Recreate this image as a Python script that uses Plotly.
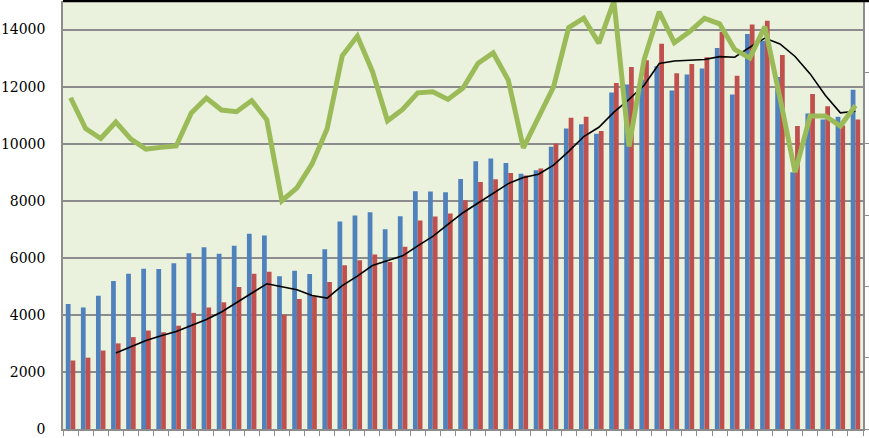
import plotly.graph_objects as go

categories = [str(i) for i in range(1, 54)]

blue_values = [4380, 4260, 4670, 5190, 5440, 5620, 5610, 5810, 6160, 6370,
               6140, 6420, 6840, 6780, 5350, 5550, 5430, 6300, 7270, 7480,
               7600, 7000, 7460, 8330, 8320, 8300, 8760, 9380, 9480, 9320,
               8950, 9070, 9890, 10530, 10680, 10350, 11790, 12070, 12250, 12710,
               11860, 12420, 12630, 13350, 11720, 13840, 13610, 12340, 9000, 11060,
               10850, 10940, 11890]

red_values = [2400, 2500, 2750, 3000, 3220, 3450, 3390, 3620, 4070, 4260,
              4440, 4980, 5440, 5510, 4010, 4560, 4650, 5150, 5740, 5910,
              6120, 5850, 6390, 7310, 7450, 7550, 8020, 8660, 8750, 8970,
              8880, 9130, 10010, 10910, 10940, 10440, 12130, 12690, 12920, 13500,
              12470, 12790, 13030, 13920, 12380, 14180, 14310, 13110, 10620, 11740,
              11310, 10640, 10850]

# trend line (moving average) values; first three are empty
trend_values = [None, None, None, 2660, 2870, 3105, 3265, 3420, 3630, 3835,
                4100, 4440, 4780, 5090, 4985, 4880, 4680, 4590, 5025, 5360,
                5730, 5905, 6070, 6420, 6750, 7175, 7580, 7920, 8245, 8600,
                8815, 8930, 9250, 9730, 10250, 10575, 11105, 11550, 12045, 12810,
                12895, 12920, 12950, 13050, 13030, 13380, 13700, 13495, 13055, 12445,
                11695, 11080, 11135]

green_values = [11610, 10530, 10180, 10760, 10160, 9810, 9870, 9920, 11080, 11600,
                11180, 11120, 11510, 10840, 8000, 8450, 9290, 10520, 13080, 13770,
                12530, 10800, 11200, 11780, 11815, 11550, 11950, 12820, 13180, 12230,
                9850, 10970, 11990, 14070, 14400, 13520, 15000, 9900, 12950, 14620,
                13540, 13920, 14390, 14200, 13300, 13000, 14100, 11600, 9000, 10970,
                10970, 10620, 11340]

left_ticks = [0, 2000, 4000, 6000, 8000, 10000, 12000, 14000]

fig = go.Figure()
fig.add_trace(go.Bar(x=categories, y=blue_values, marker=dict(color="#4f81bd", line=dict(width=0)), name="A"))
fig.add_trace(go.Bar(x=categories, y=red_values, marker=dict(color="#c0504d", line=dict(width=0)), name="B"))
fig.add_trace(go.Scatter(x=categories, y=trend_values, mode="lines",
                         line=dict(color="black", width=1.6), name="MA"))
fig.add_trace(go.Scatter(x=categories, y=green_values, mode="lines", yaxis="y2",
                         line=dict(color="#9bbb59", width=5), name="C"))

fig.update_layout(
    width=869, height=438,
    margin=dict(l=60, r=5, t=1, b=6),
    paper_bgcolor="white",
    plot_bgcolor="#eaf2dd",
    showlegend=False,
    barmode="group",
    bargap=0.37,
    bargroupgap=0,
    xaxis=dict(type="category", showticklabels=False, showgrid=False,
               showline=True, linecolor="#8c8c8c", linewidth=1.5,
               ticks="outside", ticklen=5, tickcolor="#8c8c8c", tickson="boundaries",
               range=[-0.5, 52.5]),
    yaxis=dict(range=[0, 15000], tickvals=left_ticks, ticktext=[str(v) for v in left_ticks],
               showgrid=True, gridcolor="#8c8c8c", gridwidth=1.5,
               showline=True, linecolor="#8c8c8c", linewidth=1.5,
               ticks="outside", ticklen=13, tickcolor="rgba(0,0,0,0)",
               tickfont=dict(family="DejaVu Serif", size=14, color="black"),
               ticklabeloverflow="allow",
               zeroline=False),
    yaxis2=dict(range=[0, 15000], dtick=2500, overlaying="y", side="right",
                showticklabels=False, showgrid=False, zeroline=False,
                showline=True, linecolor="#8c8c8c", linewidth=1.5,
                ticks="outside", ticklen=5, tickcolor="#8c8c8c"),
    shapes=[dict(type="line", xref="paper", yref="paper", x0=0, x1=1.01, y0=1, y1=1,
                 line=dict(color="black", width=2.5))],
)

fig.write_html("out.html",
               config={"displayModeBar": False},
               post_script="document.body.style.margin='0';document.body.style.padding='0';")
